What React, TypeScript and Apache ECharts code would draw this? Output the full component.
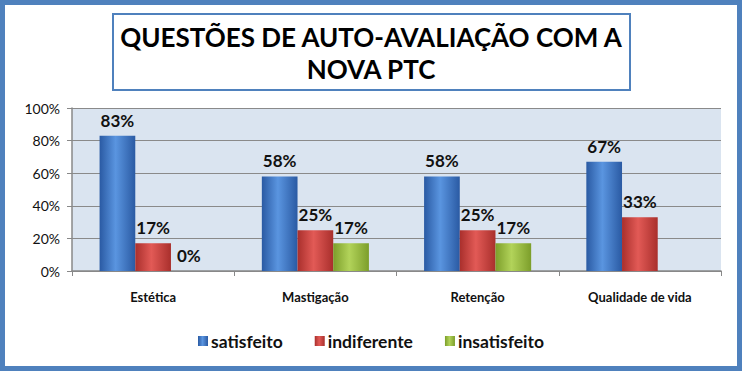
import React, { useEffect, useRef } from "react";
import * as echarts from "echarts";

const categories = ["Estética", "Mastigação", "Retenção", "Qualidade de vida"];
const satisfeito = [0.83, 0.58, 0.58, 0.67];
const indiferente = [0.17, 0.25, 0.25, 0.33];
const insatisfeito: (number | null)[] = [0, 0.17, 0.17, null];
const seriesNames = ["satisfeito", "indiferente", "insatisfeito"];
const yTicks = [0, 0.2, 0.4, 0.6, 0.8, 1];

const FONT = "Lato, 'Liberation Sans', sans-serif";

function grad(dark: string, light: string) {
  return new echarts.graphic.LinearGradient(0, 0, 1, 0, [
    { offset: 0, color: dark },
    { offset: 0.45, color: light },
    { offset: 1, color: dark },
  ]);
}

export default function App() {
  const ref = useRef<HTMLDivElement>(null);
  useEffect(() => {
    if (!ref.current) return;
    const chart = echarts.init(ref.current, undefined, { renderer: "svg" });
    const label = {
      show: true,
      position: "top",
      distance: 7,
      fontFamily: FONT,
      fontWeight: "bold",
      fontSize: 17,
      color: "#111",
      formatter: (p: any) => Math.round(p.value * 100) + "%",
    };
    const colors = [
      { solid: "#3A6FBF", g: grad("#2A5AA3", "#5A95E0") },
      { solid: "#C8423F", g: grad("#A92F2C", "#E25A56") },
      { solid: "#93B83A", g: grad("#7C9E2A", "#B2D35A") },
    ];
    const data = [satisfeito, indiferente, insatisfeito];
    chart.setOption({
      animation: false,
      backgroundColor: "#ffffff",
      title: {
        text: "QUESTÕES DE AUTO-AVALIAÇÃO COM A\nNOVA PTC",
        left: "center",
        top: 16,
        textStyle: {
          fontFamily: FONT,
          fontWeight: "bold",
          fontSize: 26,
          lineHeight: 32,
          color: "#000",
        },
      },
      graphic: [
        {
          type: "rect",
          shape: { x: 2.5, y: 2.5, width: 737, height: 366 },
          style: { fill: "none", stroke: "#4F81BD", lineWidth: 5 },
          silent: true,
        },
        {
          type: "rect",
          shape: { x: 113, y: 14, width: 517, height: 76 },
          style: { fill: "none", stroke: "#4F81BD", lineWidth: 2 },
          silent: true,
        },
      ],
      legend: {
        bottom: 18,
        left: "center",
        itemWidth: 10,
        itemHeight: 10,
        itemGap: 32,
        icon: "rect",
        data: seriesNames,
        textStyle: {
          fontFamily: FONT,
          fontWeight: "bold",
          fontSize: 17.5,
          color: "#111",
          padding: [0, 0, 0, -2],
        },
      },
      grid: {
        left: 72,
        right: 21,
        top: 108,
        bottom: 102,
        show: true,
        backgroundColor: "#DAE4F0",
        borderWidth: 0,
      },
      xAxis: {
        type: "category",
        data: categories,
        axisLine: { show: true, lineStyle: { color: "#888", width: 1.5 } },
        axisTick: { show: true, length: 5, lineStyle: { color: "#888" } },
        axisLabel: {
          margin: 19,
          fontFamily: FONT,
          fontWeight: "bold",
          fontSize: 13,
          color: "#111",
        },
      },
      yAxis: {
        type: "value",
        min: 0,
        max: 1,
        interval: 0.2,
        axisLine: { show: true, lineStyle: { color: "#888", width: 1.5 } },
        axisTick: { show: true, length: 5, lineStyle: { color: "#888" } },
        splitLine: { show: true, lineStyle: { color: "#8A8A8A", width: 1 } },
        axisLabel: {
          margin: 12,
          fontFamily: FONT,
          fontSize: 14,
          color: "#111",
          formatter: (v: number) => {
            const i = yTicks.findIndex((t) => Math.abs(t - v) < 1e-6);
            return Math.round((i >= 0 ? yTicks[i] : v) * 100) + "%";
          },
        },
      },
      series: seriesNames.map((name, i) => ({
        name,
        type: "bar",
        data: data[i],
        barGap: "0%",
        barCategoryGap: "34%",
        itemStyle: {
          color: colors[i].g,
          borderWidth: 0,
        },
        label,
      })),
    });
    return () => chart.dispose();
  }, []);
  return (
    <div
      ref={ref}
      style={{ position: "absolute", left: 0, top: 0, width: 742, height: 373 }}
    />
  );
}
